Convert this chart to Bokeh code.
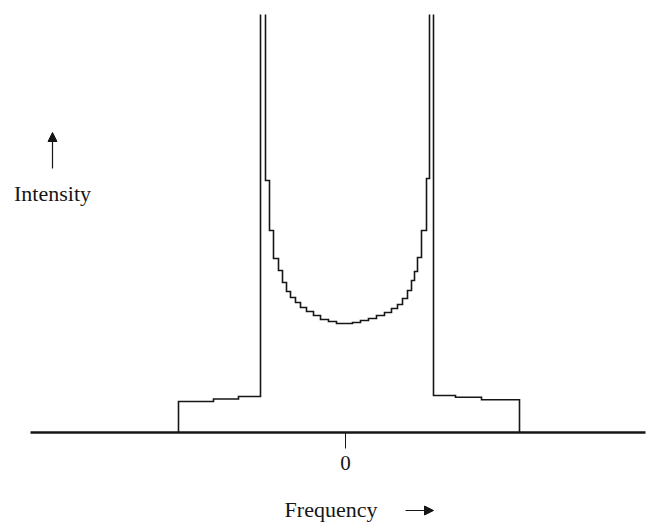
from bokeh.plotting import figure
from bokeh.models import Range1d, Arrow, NormalHead
from bokeh.core.properties import value
from bokeh.embed import file_html
from bokeh.resources import INLINE

# Powder-pattern histogram: bin edges (frequency, arbitrary units) and bin intensities
bin_edges = [-1.67, -1.32, -1.07, -0.85, -0.80, -0.76, -0.72, -0.67, -0.63, -0.59,
             -0.55, -0.50, -0.45, -0.39, -0.32, -0.25, -0.17, -0.09, -0.01, 0.07,
             0.15, 0.23, 0.31, 0.39, 0.46, 0.52, 0.57, 0.62, 0.66, 0.69,
             0.72, 0.76, 0.81, 0.84, 0.88, 1.10, 1.36, 1.74]
intensities = [0.31, 0.335, 0.36, 6.0, 2.52, 2.02, 1.74, 1.62, 1.50, 1.41,
               1.35, 1.30, 1.25, 1.21, 1.17, 1.13, 1.11, 1.09, 1.09, 1.10,
               1.12, 1.14, 1.17, 1.20, 1.24, 1.28, 1.34, 1.42, 1.52, 1.61,
               1.75, 2.02, 2.54, 6.0, 0.37, 0.353, 0.327]

tick_positions = [0.0]
tick_labels = ["0"]
x_title = "Frequency"
y_title = "Intensity"

INK = "#161616"
SERIF = value("Liberation Serif")

p = figure(width=646, height=525,
           x_range=Range1d(-3.45, 3.01), y_range=Range1d(-0.93, 4.18),
           x_axis_type=None, y_axis_type=None,
           output_backend="svg", toolbar_location=None,
           min_border=0, min_border_top=14)
p.grid.visible = False
p.outline_line_color = None
p.background_fill_color = "white"
p.border_fill_color = "white"

# step outline of the histogram
xs = [bin_edges[0]]
ys = [0.0]
for i, h in enumerate(intensities):
    xs += [bin_edges[i], bin_edges[i + 1]]
    ys += [h, h]
xs.append(bin_edges[-1])
ys.append(0.0)
p.line(xs, ys, line_color=INK, line_width=1.6, line_join="miter")

# frequency axis line, tick and tick label
p.segment(x0=[-3.15], y0=[0], x1=[3.0], y1=[0], line_color=INK, line_width=2.6)
p.segment(x0=tick_positions, y0=[0] * len(tick_positions),
          x1=tick_positions, y1=[-0.16] * len(tick_positions),
          line_color=INK, line_width=1)
p.text(x=tick_positions, y=[-0.30] * len(tick_positions), text=tick_labels,
       text_font=SERIF, text_font_size="21px", text_color=INK,
       text_align="center", text_baseline="middle")

# axis titles with direction arrows
p.text(x=[-0.145], y=[-0.77], text=[x_title], text_font=SERIF,
       text_font_size="22px", text_color=INK,
       text_align="center", text_baseline="alphabetic")
p.add_layout(Arrow(end=NormalHead(size=9, fill_color=INK, line_color=INK, line_width=1),
                   x_start=0.60, y_start=-0.78, x_end=0.88, y_end=-0.78,
                   line_color=INK, line_width=1.2))

p.text(x=[-2.93], y=[2.39], text=[y_title], text_font=SERIF,
       text_font_size="22px", text_color=INK,
       text_align="center", text_baseline="alphabetic")
p.add_layout(Arrow(end=NormalHead(size=9, fill_color=INK, line_color=INK, line_width=1),
                   x_start=-2.93, y_start=2.64, x_end=-2.93, y_end=3.0,
                   line_color=INK, line_width=1.2))

open("out.html", "w").write(file_html(p, INLINE))
